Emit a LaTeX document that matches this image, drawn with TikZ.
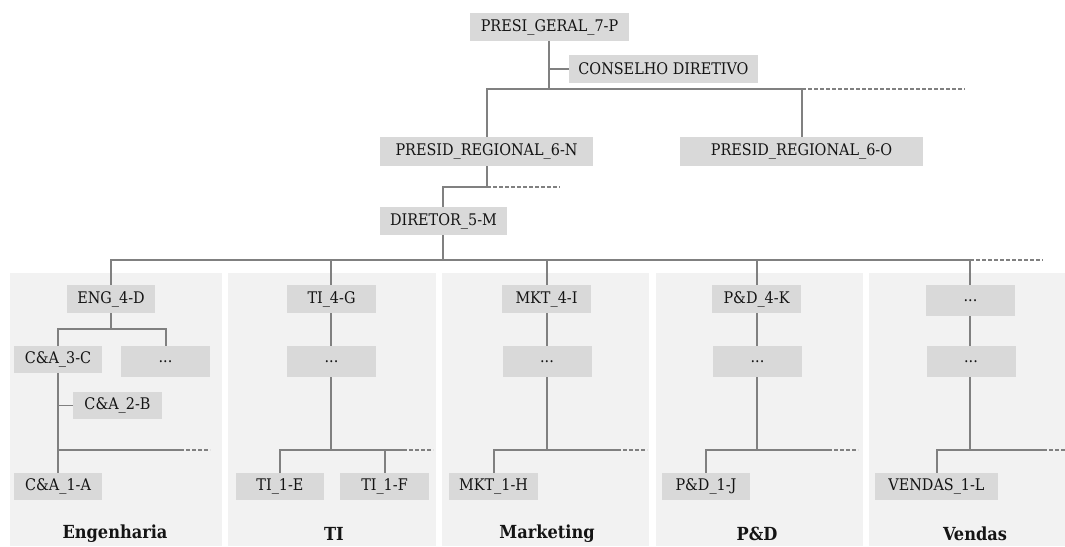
\documentclass[tikz,border=0pt]{standalone}
\usepackage{fontspec}
\setmainfont{DejaVu Serif Condensed}
\definecolor{panelgray}{HTML}{F2F2F2}
\definecolor{boxgray}{HTML}{D9D9D9}
\definecolor{linegray}{HTML}{808080}
\definecolor{ink}{HTML}{141414}
\begin{document}
\begin{tikzpicture}[x=1pt,y=-1pt,
  unit/.style={fill=boxgray, inner sep=0pt, text=ink, font=\fontsize{16}{18}\selectfont,
    minimum height=28pt, anchor=center},
  dots/.style={unit, minimum width=89pt, minimum height=31pt},
  leaf/.style={unit, minimum height=27pt},
  panel/.style={fill=panelgray, draw=none},
  area/.style={text=ink, font=\fontsize{18}{20}\selectfont\bfseries, inner sep=0pt},
  conn/.style={draw=linegray, line width=1.2pt},
  open/.style={draw=linegray, line width=1.2pt, dash pattern=on 4pt off 2pt}]
\useasboundingbox (0,0) rectangle (1065,546);

% department panels
\fill[panel] (10,273) rectangle (222,546);
\fill[panel] (228,273) rectangle (436,546);
\fill[panel] (442,273) rectangle (649,546);
\fill[panel] (656,273) rectangle (863,546);
\fill[panel] (869,273) rectangle (1065,546);

% upper levels
\node[unit, minimum width=159pt] (geral) at (549.5,27) {PRESI\_GERAL\_7-P};
\node[unit, minimum width=189pt] (cons) at (663.5,69) {CONSELHO DIRETIVO};
\node[unit, minimum width=213pt, minimum height=29pt] (regn) at (486.5,151.5) {PRESID\_REGIONAL\_6-N};
\node[unit, minimum width=243pt, minimum height=29pt] (rego) at (801.5,151.5) {PRESID\_REGIONAL\_6-O};
\node[unit, minimum width=127pt] (dir) at (443.5,221) {DIRETOR\_5-M};

% level 4
\node[unit, minimum width=88pt] (eng) at (111,299) {ENG\_4-D};
\node[unit, minimum width=89pt] (ti) at (331.5,299) {TI\_4-G};
\node[unit, minimum width=89pt] (mkt) at (546.5,299) {MKT\_4-I};
\node[unit, minimum width=89pt] (pd) at (756.5,299) {P\&D\_4-K};
\node[dots] (vd) at (970.5,300.5) {...};

% level 3
\node[leaf, minimum width=88pt] (ca3) at (58,359.5) {C\&A\_3-C};
\node[dots] (engx) at (165.5,361.5) {...};
\node[dots] (tix) at (331.5,361.5) {...};
\node[dots] (mktx) at (547,361.5) {...};
\node[dots] (pdx) at (757.5,361.5) {...};
\node[dots] (vdx) at (971,361.5) {...};

% level 2 and 1
\node[leaf, minimum width=89pt] (ca2) at (117.5,405.5) {C\&A\_2-B};
\node[leaf, minimum width=88pt] (ca1) at (58,486.5) {C\&A\_1-A};
\node[leaf, minimum width=88pt] (tie) at (280,486.5) {TI\_1-E};
\node[leaf, minimum width=89pt] (tif) at (384.5,486.5) {TI\_1-F};
\node[leaf, minimum width=89pt] (mkth) at (493.5,486.5) {MKT\_1-H};
\node[leaf, minimum width=88pt] (pdj) at (706,486.5) {P\&D\_1-J};
\node[leaf, minimum width=123pt] (vl) at (936.5,486.5) {VENDAS\_1-L};

% area titles
\node[area] (tEng) at (115,534) {Engenharia};
\node[area] (tTi) at (334,534) {TI};
\node[area] (tMkt) at (547,534) {Marketing};
\node[area] (tPd) at (757,534) {P\&D};
\node[area] (tVd) at (975,534) {Vendas};

% junction points
\coordinate (b1) at (549,89);
\coordinate (b1end) at (965,89);
\coordinate (b2) at (487,187);
\coordinate (b2end) at (560,187);
\coordinate (b3) at (443,260);
\coordinate (b3end) at (1043,260);
\coordinate (engj) at (111,329);
\coordinate (caj) at (58,450);
\coordinate (caend) at (210,450);
\coordinate (tij) at (331,450);
\coordinate (tiend) at (433,450);
\coordinate (mktj) at (547,450);
\coordinate (mktend) at (647,450);
\coordinate (pdj0) at (757,450);
\coordinate (pdend) at (858,450);
\coordinate (vdj) at (970,450);
\coordinate (vdend) at (1065,450);

% top
\draw[conn] (geral.south -| b1) -- (b1);
\draw[conn] (geral.south -| b1) |- (cons.west);
\draw[conn] (regn.north -| 487,0) |- (b1) ;
\draw[conn] (rego.north -| 802,0) -- (802,89) -- (b1);
\draw[open] (802,89) -- (b1end);

% regional to director
\draw[conn] (regn.south -| b2) -- (b2) -| (dir.north -| b3);
\draw[open] (b2) -- (b2end);
\draw[conn] (dir.south -| b3) -- (b3);

% director bar to departments
\draw[conn] (eng.north) |- (b3);
\draw[conn] (b3) -| (vd.north -| 970,0);
\draw[conn] (ti.north -| 331,0) -- (331,260);
\draw[conn] (mkt.north -| 547,0) -- (547,260);
\draw[conn] (pd.north -| 757,0) -- (757,260);
\draw[open] (970,260) -- (b3end);

% Engenharia
\draw[conn] (eng.south) -- (engj);
\draw[conn] (ca3.north) |- (engj) -| (engx.north -| 166,0);
\draw[conn] (ca3.south) -- (ca1.north);
\draw[conn] (ca3.south |- ca2.west) -- (ca2.west);
\draw[conn] (caj) -- (180,450);
\draw[open] (180,450) -- (caend);

% TI
\draw[conn] (ti.south -| tij) -- (tix.north -| tij);
\draw[conn] (tix.south -| tij) -- (tij);
\draw[conn] (tie.north) |- (tij) -- (403,450);
\draw[conn] (tif.north -| 385,0) -- (385,450);
\draw[open] (403,450) -- (tiend);

% Marketing
\draw[conn] (mkt.south -| mktj) -- (mktx.north -| mktj);
\draw[conn] (mktx.south -| mktj) -- (mktj);
\draw[conn] (mkth.north -| 494,0) |- (mktj) -- (617,450);
\draw[open] (617,450) -- (mktend);

% P&D
\draw[conn] (pd.south -| pdj0) -- (pdx.north -| pdj0);
\draw[conn] (pdx.south -| pdj0) -- (pdj0);
\draw[conn] (pdj.north) |- (pdj0) -- (828,450);
\draw[open] (828,450) -- (pdend);

% Vendas
\draw[conn] (vd.south -| vdj) -- (vdx.north -| vdj);
\draw[conn] (vdx.south -| vdj) -- (vdj);
\draw[conn] (vl.north -| 937,0) |- (vdj) -- (1043,450);
\draw[open] (1043,450) -- (vdend);
\end{tikzpicture}
\end{document}
